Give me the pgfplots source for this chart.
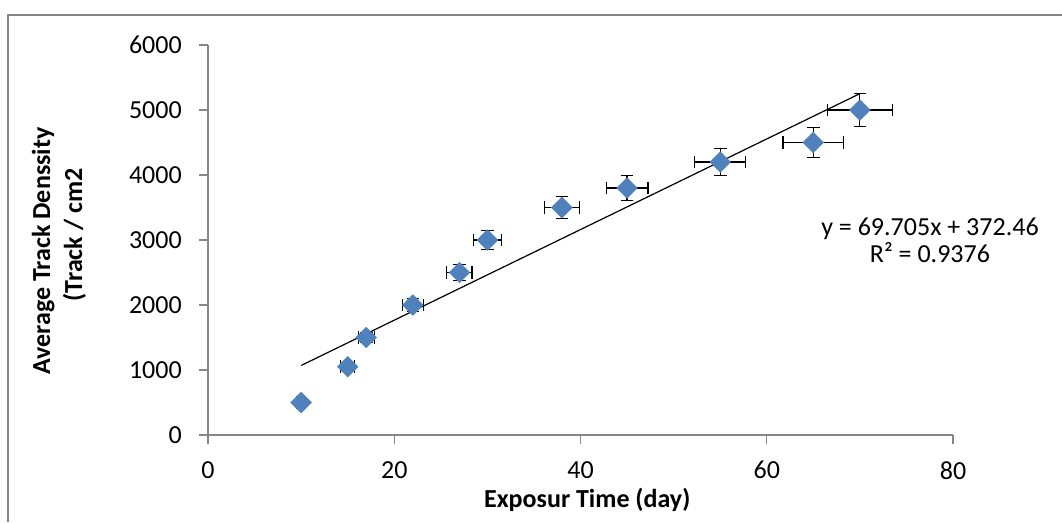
\documentclass[border=0pt]{standalone}
\usepackage{pgfplots}
\pgfplotsset{compat=1.18}
\usepackage{pgfplotstable}
\usepackage{fontspec}
\setmainfont{Carlito}
\definecolor{mblue}{HTML}{4F81BD}
\definecolor{agray}{HTML}{868686}
\pgfplotstableread{
x y ex ey
10 500 0.5 25
15 1050 0.75 52.5
17 1500 0.85 75
22 2000 1.1 100
27 2500 1.35 125
30 3000 1.5 150
38 3500 1.9 175
45 3800 2.25 190
55 4200 2.75 210
65 4500 3.25 225
70 5000 3.5 250
}\datatable
\begin{document}
\begin{tikzpicture}
\useasboundingbox (0,0) rectangle (796.5pt,391.5pt);
\draw[agray, line width=1.2pt] (6pt,0pt) -- (6pt,380.25pt) -- (796.5pt,380.25pt);
\begin{axis}[
  at={(156pt,65.25pt)}, anchor=origin,
  scale only axis, width=558.75pt, height=292.5pt,
  xmin=0, xmax=80, ymin=0, ymax=6000,
  xtick={0,20,40,60,80}, ytick={0,1000,2000,3000,4000,5000,6000},
  axis lines=left, axis line style={agray, line width=1pt, -},
  tick align=outside, major tick length=6.75pt,
  tick style={agray, line width=1pt},
  xtick pos=left, ytick pos=left,
  every tick label/.append style={font=\fontsize{19.5}{23}\selectfont, text=black},
  /pgf/number format/assume math mode=true,
  /pgf/number format/set thousands separator={},
  yticklabel style={anchor=east, inner sep=0pt, xshift=-12.75pt},
  xticklabel style={anchor=north, inner sep=0pt, yshift=-12.75pt},
  xlabel={Exposur Time (day)},
  ylabel={Average Track Denssity\\\hspace*{24pt}(Track / cm2},
  label style={font=\fontsize{19.5}{24}\selectfont\bfseries, align=center},
  xlabel style={at={(axis description cs:0.509,-0.167)}, anchor=center},
  ylabel style={at={(axis description cs:-0.2,0.472)}, anchor=center},
  clip=false,
]
\addplot[only marks, mark=square*, mark size=5.5pt,
  mark options={rotate=45, fill=mblue, draw=mblue, line width=0.3pt},
  error bars/.cd, x dir=both, y dir=both, x explicit, y explicit,
  error bar style={black, line width=0.9pt},
  error mark options={black, line width=0.9pt, mark size=4.75pt, rotate=90}]
  table[x=x, y=y, x error=ex, y error=ey] {\datatable};
\addplot[black, line width=0.9pt] coordinates {(10,1069.51) (70,5251.81)};
\node[align=center, font=\fontsize{19.5}{20.5}\selectfont] at (axis cs:77.53,3000) {y = 69.705x + 372.46\\R² = 0.9376};
\end{axis}
\end{tikzpicture}
\end{document}
